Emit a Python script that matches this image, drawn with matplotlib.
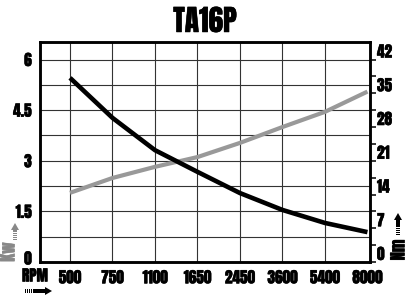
import matplotlib
matplotlib.use('Agg')
import matplotlib.pyplot as plt
import matplotlib.patches as mpatches
import matplotlib.patheffects as pe
import matplotlib.transforms as mtransforms
import numpy as np

# data
rpm = ['500', '750', '1100', '1650', '2450', '3600', '5400', '8000']
kw = [2.05, 2.49, 2.82, 3.11, 3.53, 4.00, 4.45, 5.05]      # power, left axis
nm = [38.2, 29.9, 23.2, 18.7, 14.3, 10.8, 8.1, 6.2]        # torque, right axis
kw_ticks = [0, 1.5, 3, 4.5, 6]
kw_labels = ['0', '1.5', '3', '4.5', '6']
nm_ticks = [0, 7, 14, 21, 28, 35, 42]

plt.rcParams['font.family'] = ['Anton', 'DejaVu Sans']

W, H = 405, 296
gray = '#999999'
fig = plt.figure(figsize=(W/100, H/100), dpi=100)
ax = fig.add_axes([40/W, 34/H, 330/W, 220/H])


def bold(t, c='black'):
    # thicken the glyphs a little, the reference uses a heavier face
    t.set_path_effects([pe.withStroke(linewidth=0.35, foreground=c)])


x = np.arange(len(rpm))
kwmax = 6.52
ax.set_xlim(-0.706, 7.06)
ax.set_ylim(0, kwmax)

# grid
for g in np.arange(0.75, 6.01, 0.75):
    ax.axhline(g, color='#333333', lw=0.8, zorder=1)
for i in x[:-1]:
    ax.axvline(i, color='#333333', lw=0.8, zorder=1)

ax.plot(x, kw, color=gray, lw=3.0, solid_capstyle='butt', zorder=3)

ax.set_yticks(kw_ticks, kw_labels)
ax.set_xticks(x, rpm)
ax.tick_params(axis='both', length=0, labelsize=11)
ax.tick_params(axis='y', pad=6)
ax.tick_params(axis='x', pad=6)
for s in ax.spines.values():
    s.set_linewidth(1.8)
for lab in ax.get_yticklabels() + ax.get_xticklabels():
    bold(lab)
# lift the bottom "0" off the spine like the reference
zl = ax.get_yticklabels()[0]
zl.set_transform(zl.get_transform() + mtransforms.ScaledTranslation(0, 4/100, fig.dpi_scale_trans))

ax2 = ax.twinx()
ax2.set_ylim(0, kwmax*7)
ax2.plot(x, nm, color='black', lw=3.3, solid_capstyle='butt', zorder=4)
ax2.set_yticks(nm_ticks)
ax2.set_yticks([3.5 + 7*k for k in range(6)], minor=True)
ax2.tick_params(axis='y', which='both', direction='out', length=4, width=1.1, labelsize=11, pad=1)
for lab in ax2.get_yticklabels():
    lab.set_va('bottom')
    bold(lab)
for s in ax2.spines.values():
    s.set_linewidth(1.8)

bold(fig.text(205/W, 1-21/H, 'TA16P', ha='center', va='center', fontsize=21))
bold(fig.text(35/W, 1-276/H, 'RPM', ha='center', va='center', fontsize=11))
bold(fig.text(8/W, 1-252/H, 'Kw', ha='center', va='center', rotation=90, fontsize=12, color='#888888'), '#888888')
bold(fig.text(398/W, 1-250/H, 'Nm', ha='center', va='center', rotation=90, fontsize=12, color='black'))


def stripe_arrow(x0, y0, length, direction, color):
    # striped tail, solid shaft, triangular head; pixel coords from top-left
    head, hw, sw = 7, 4.0, 2.0
    pts = []
    def P(t, s):
        if direction == 'up':
            px, py = x0 + s, y0 - t
        else:
            px, py = x0 + t, y0 + s
        return (px/W, 1 - py/H)
    for t in np.arange(0, 8, 2):
        pts.append([P(t, -sw), P(t+1, -sw), P(t+1, sw), P(t, sw)])
    pts.append([P(8, -sw), P(length-head, -sw), P(length-head, sw), P(8, sw)])
    pts.append([P(length-head, -hw), P(length, 0), P(length-head, hw)])
    for p in pts:
        fig.add_artist(mpatches.Polygon(p, closed=True, color=color, lw=0,
                                        transform=fig.transFigure))


stripe_arrow(15, 240, 17, 'up', '#888888')
stripe_arrow(398, 235, 22, 'up', 'black')
stripe_arrow(25, 291, 27, 'right', 'black')

fig.savefig('out.png', dpi=100)
